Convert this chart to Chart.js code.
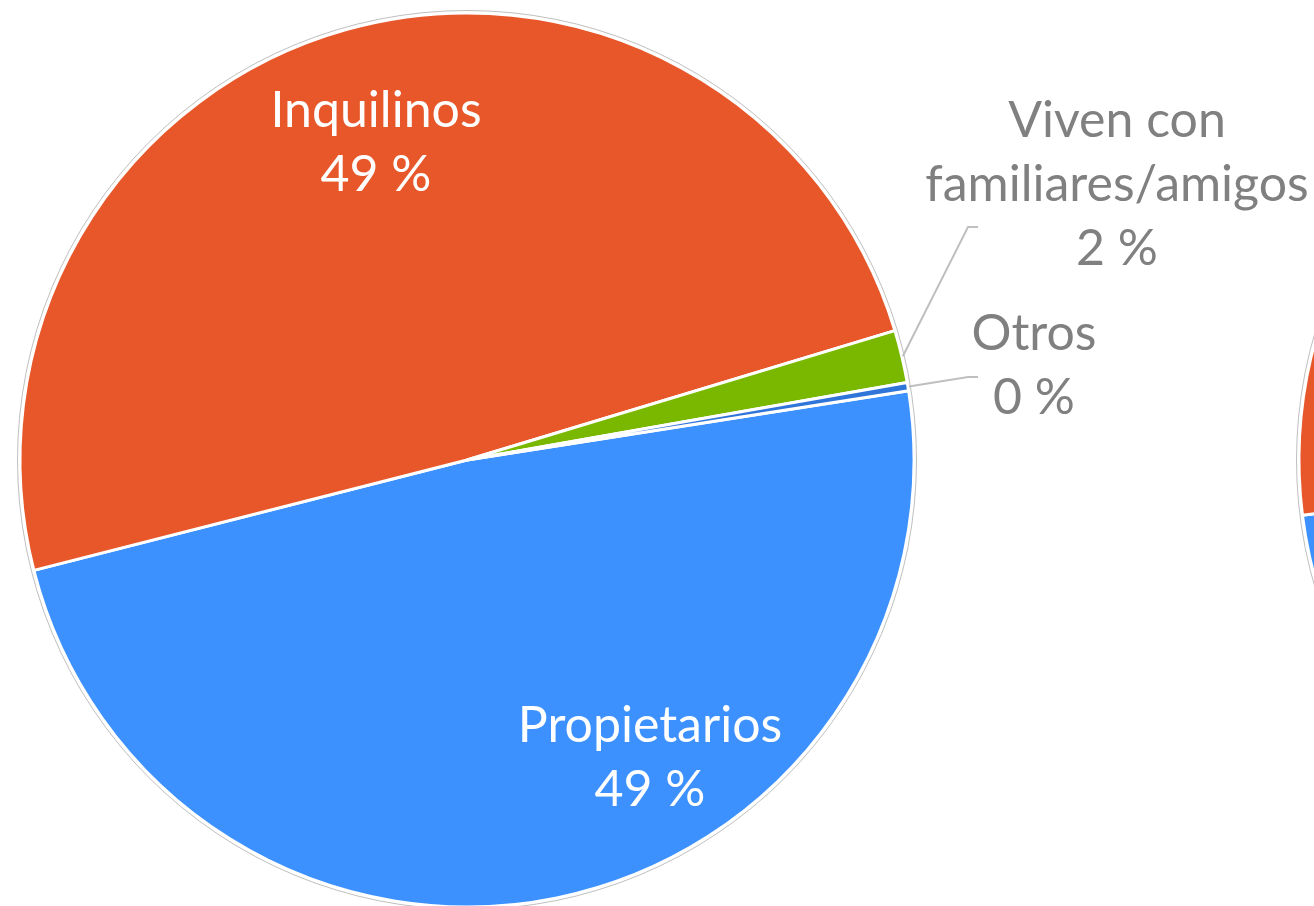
<!DOCTYPE html>
<html>
<head>
<meta charset="utf-8">
<script src="https://cdn.jsdelivr.net/npm/chart.js@4.4.1/dist/chart.umd.min.js"></script>
<style>
  html, body { margin: 0; padding: 0; background: #fff; }
  #wrap { position: relative; width: 1314px; height: 906px; overflow: hidden; }
  #pieA { position: absolute; left: 0; top: 0; }
  #pieB { position: absolute; left: 1286px; top: 0; }
</style>
</head>
<body>
<div id="wrap">
  <canvas id="pieA" width="1314" height="906"></canvas>
  <canvas id="pieB" width="920" height="906"></canvas>
</div>
<script>
// data
const categories = ['Propietarios', 'Inquilinos', 'Viven con familiares/amigos', 'Otros'];
const labelLines = [['Propietarios'], ['Inquilinos'], ['Viven con', 'familiares/amigos'], ['Otros']];
const valuesA = [48.5, 49.3, 1.9, 0.3];
// second pie, only its left edge shows at the right border
const valuesB = [50, 47, 2.5, 0.5];
const colors = ['#3d91ff', '#e8572a', '#7ab800', '#2f74d8'];

// label layout (offsets from pie centre, px)
const labelLayout = [
  { dx: 183, dy: 282, color: '#ffffff' },
  { dx: -91, dy: -333, color: '#ffffff' },
  { dx: 650, dy: -323, color: '#808080', leader: [[501, -233], [511, -233]] },
  { dx: 567, dy: -110, color: '#808080', leader: [[501, -83], [511, -83]] }
];
const lineHeight = 64;

const sliceLabels = {
  id: 'sliceLabels',
  afterDatasetsDraw(chart, args, opts) {
    const ctx = chart.ctx;
    const meta = chart.getDatasetMeta(0);
    const first = meta.data[0];
    const { x, y, outerRadius } = first.getProps(['x', 'y', 'outerRadius'], true);
    ctx.save();
    // thin grey ring outside the white edge
    ctx.beginPath();
    ctx.arc(x, y, outerRadius + 2.5, 0, Math.PI * 2);
    ctx.strokeStyle = 'rgba(170,170,170,0.75)';
    ctx.lineWidth = 1;
    ctx.stroke();

    if (!opts.show) { ctx.restore(); return; }
    const vals = chart.data.datasets[0].data;
    ctx.font = '50px Lato';
    ctx.textAlign = 'center';
    ctx.textBaseline = 'alphabetic';
    meta.data.forEach((arc, i) => {
      const lay = labelLayout[i];
      const p = arc.getProps(['startAngle', 'endAngle'], true);
      if (lay.leader) {
        const mid = (p.startAngle + p.endAngle) / 2;
        ctx.beginPath();
        ctx.moveTo(x + Math.cos(mid) * (outerRadius + 1), y + Math.sin(mid) * (outerRadius + 1));
        lay.leader.forEach(pt => ctx.lineTo(x + pt[0], y + pt[1]));
        ctx.strokeStyle = '#bfbfbf';
        ctx.lineWidth = 2;
        ctx.stroke();
      }
      const lines = labelLines[i].concat([Math.round(vals[i]) + ' %']);
      ctx.fillStyle = lay.color;
      lines.forEach((t, k) => {
        ctx.fillText(t, x + lay.dx, y + lay.dy + k * lineHeight);
      });
    });
    ctx.restore();
  }
};

function makePie(id, values, rotation, padding, showLabels) {
  return new Chart(document.getElementById(id), {
    type: 'pie',
    data: {
      labels: categories,
      datasets: [{
        data: values,
        backgroundColor: colors,
        borderColor: '#ffffff',
        borderWidth: 3,
        clip: false
      }]
    },
    options: {
      responsive: false,
      devicePixelRatio: 1,
      animation: false,
      rotation: rotation,
      radius: 447,
      layout: { padding: padding },
      plugins: {
        legend: { display: false },
        tooltip: { enabled: false },
        sliceLabels: { show: showLabels }
      }
    },
    plugins: [sliceLabels]
  });
}

document.fonts.load('50px Lato').finally(() => {
  makePie('pieA', valuesA, 81.1, { left: 0, right: 380, top: 14, bottom: 0 }, true);
  makePie('pieB', valuesB, 82.9, { left: 0, right: 0, top: 14, bottom: 0 }, false);
});
</script>
</body>
</html>
